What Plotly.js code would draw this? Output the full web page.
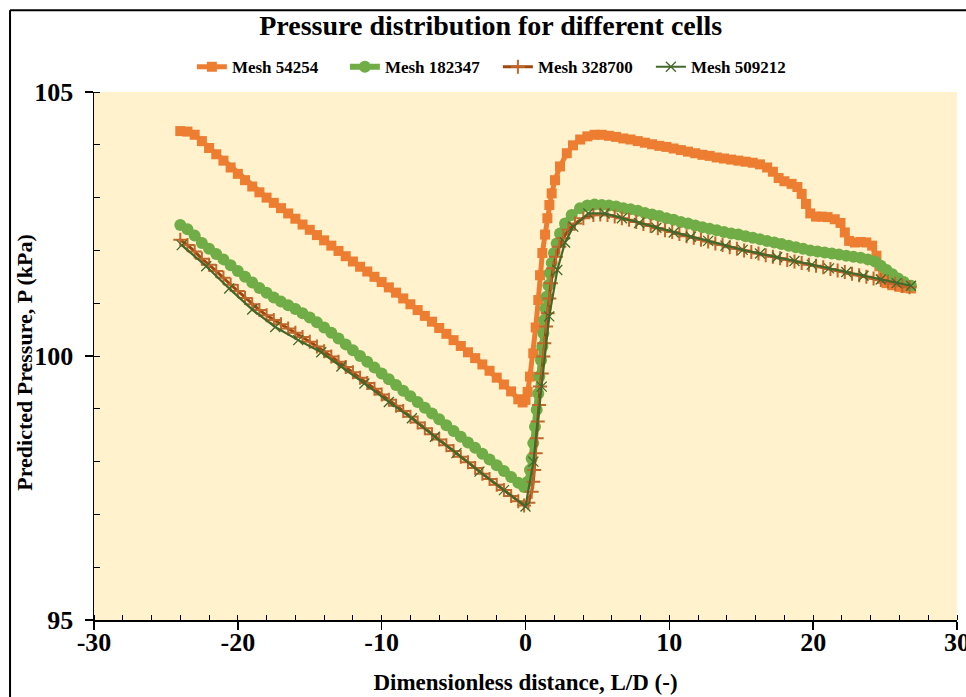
<!DOCTYPE html>
<html>
<head>
<meta charset="utf-8">
<script src="https://cdn.plot.ly/plotly-3.0.1.min.js"></script>
<style>html,body{margin:0;padding:0;background:#fff;}</style>
</head>
<body>
<div id="chart" style="width:966px;height:697px;"></div>
<script>
// Series names
const seriesNames = ["Mesh 54254", "Mesh 182347", "Mesh 328700", "Mesh 509212"];

// Axis tick values and labels
const xTickVals = [-30, -20, -10, 0, 10, 20, 30];
const xTickText = ["-30", "-20", "-10", "0", "10", "20", "30"];
const yTickVals = [95, 100, 105];
const yTickText = ["95", "100", "105"];

// Mesh 54254 (orange, squares)
const x54254 = [-24.0,-23.5,-23.0,-22.5,-22.0,-21.5,-21.0,-20.5,-20.0,-19.5,-19.0,-18.5,-18.0,-17.5,-17.0,-16.5,-16.0,-15.5,-15.0,-14.5,-14.0,-13.5,-13.0,-12.5,-12.0,-11.5,-11.0,-10.5,-10.0,-9.5,-9.0,-8.5,-8.0,-7.5,-7.0,-6.5,-6.0,-5.5,-5.0,-4.5,-4.0,-3.5,-3.0,-2.5,-2.0,-1.5,-1.0,-0.5,-0.2,0.0,0.15,0.31,0.54,0.71,0.89,1.01,1.17,1.36,1.52,1.66,1.82,2.05,2.4,2.87,3.3,3.8,4.3,4.8,5.3,5.8,6.3,6.8,7.3,7.8,8.3,8.8,9.3,9.8,10.3,10.8,11.3,11.8,12.3,12.8,13.3,13.8,14.3,14.8,15.3,15.8,16.3,16.8,17.2,17.6,18.0,18.5,18.9,19.2,19.5,19.8,20.2,20.6,21.0,21.5,21.9,22.2,22.5,22.9,23.3,23.7,24.1,24.4,24.6,24.8,25.1,25.5,26.0,26.4,26.8];
const p54254 = [104.26,104.25,104.19,104.07,103.94,103.82,103.70,103.57,103.45,103.33,103.21,103.10,103.00,102.90,102.80,102.70,102.60,102.49,102.39,102.29,102.19,102.09,101.99,101.89,101.79,101.69,101.60,101.50,101.40,101.30,101.20,101.09,100.98,100.87,100.76,100.65,100.53,100.42,100.30,100.19,100.07,99.96,99.84,99.72,99.59,99.46,99.33,99.18,99.12,99.17,99.32,99.61,100.05,100.54,101.06,101.53,101.95,102.30,102.61,102.86,103.08,103.33,103.59,103.84,103.99,104.10,104.16,104.19,104.19,104.17,104.15,104.12,104.10,104.07,104.04,104.01,103.98,103.96,103.93,103.90,103.87,103.84,103.81,103.79,103.76,103.74,103.72,103.70,103.68,103.66,103.63,103.57,103.49,103.37,103.31,103.26,103.20,103.07,102.88,102.70,102.64,102.64,102.63,102.59,102.52,102.34,102.18,102.15,102.16,102.15,102.09,101.90,101.70,101.46,101.38,101.34,101.31,101.29,101.28];

// Mesh 182347 (green, circles)
const x182347 = [-24.0,-23.5,-23.0,-22.5,-22.0,-21.5,-21.0,-20.5,-20.0,-19.5,-19.0,-18.5,-18.0,-17.5,-17.0,-16.5,-16.0,-15.5,-15.0,-14.5,-14.0,-13.5,-13.0,-12.5,-12.0,-11.5,-11.0,-10.5,-10.0,-9.5,-9.0,-8.5,-8.0,-7.5,-7.0,-6.5,-6.0,-5.5,-5.0,-4.5,-4.0,-3.5,-3.0,-2.5,-2.0,-1.5,-1.0,-0.5,-0.1,0.15,0.31,0.43,0.54,0.66,0.78,0.89,0.96,1.08,1.17,1.24,1.31,1.40,1.47,1.59,1.70,1.82,1.98,2.17,2.40,2.75,3.21,3.79,4.3,4.8,5.3,5.8,6.3,6.8,7.3,7.8,8.3,8.8,9.3,9.8,10.3,10.8,11.3,11.8,12.3,12.8,13.3,13.8,14.3,14.8,15.3,15.8,16.3,16.8,17.3,17.8,18.3,18.8,19.3,19.8,20.3,20.8,21.3,21.8,22.3,22.8,23.3,23.8,24.3,24.7,25.1,25.5,25.9,26.3,26.8];
const p182347 = [102.48,102.40,102.28,102.14,102.03,101.93,101.83,101.72,101.61,101.50,101.39,101.29,101.20,101.11,101.03,100.96,100.89,100.81,100.73,100.64,100.54,100.44,100.33,100.22,100.11,100.00,99.89,99.78,99.67,99.56,99.45,99.34,99.24,99.13,99.02,98.91,98.80,98.69,98.58,98.47,98.36,98.26,98.15,98.04,97.93,97.82,97.71,97.60,97.52,97.62,97.84,98.06,98.35,98.66,98.98,99.29,99.61,99.92,100.18,100.43,100.68,100.90,101.12,101.34,101.57,101.76,101.95,102.13,102.32,102.51,102.67,102.80,102.85,102.87,102.86,102.85,102.83,102.80,102.78,102.75,102.71,102.68,102.65,102.61,102.58,102.54,102.51,102.47,102.44,102.41,102.38,102.35,102.32,102.30,102.27,102.24,102.21,102.18,102.15,102.12,102.09,102.06,102.03,102.00,101.98,101.96,101.94,101.92,101.90,101.88,101.86,101.83,101.79,101.71,101.63,101.55,101.47,101.40,101.33];

// Mesh 328700 (brown, plus)
const x328700 = [-24.0,-23.5,-23.0,-22.5,-22.0,-21.5,-21.0,-20.5,-20.0,-19.5,-19.0,-18.5,-18.0,-17.5,-17.0,-16.5,-16.0,-15.5,-15.0,-14.5,-14.0,-13.5,-13.0,-12.5,-12.0,-11.5,-11.0,-10.5,-10.0,-9.5,-9.0,-8.5,-8.0,-7.5,-7.0,-6.5,-6.0,-5.5,-5.0,-4.5,-4.0,-3.5,-3.0,-2.5,-2.0,-1.5,-1.0,-0.5,-0.1,0.2,0.43,0.54,0.61,0.71,0.78,0.85,0.94,1.01,1.13,1.24,1.31,1.43,1.54,1.66,1.77,1.93,2.12,2.35,2.63,2.98,3.44,4.02,4.72,5.2,5.7,6.2,6.7,7.2,7.7,8.2,8.7,9.2,9.7,10.2,10.7,11.2,11.7,12.2,12.7,13.2,13.7,14.2,14.7,15.2,15.7,16.2,16.7,17.2,17.7,18.2,18.7,19.2,19.7,20.2,20.7,21.2,21.7,22.2,22.7,23.2,23.7,24.2,24.7,25.2,25.7,26.2,26.7];
const p328700 = [102.20,102.10,101.98,101.84,101.73,101.61,101.48,101.35,101.23,101.10,100.98,100.87,100.77,100.68,100.60,100.52,100.44,100.36,100.27,100.18,100.09,99.99,99.89,99.79,99.69,99.59,99.49,99.38,99.27,99.17,99.06,98.96,98.85,98.74,98.63,98.52,98.42,98.31,98.20,98.09,97.99,97.88,97.77,97.67,97.56,97.46,97.35,97.25,97.17,97.22,97.43,97.62,97.84,98.16,98.44,98.76,99.07,99.42,99.67,99.99,100.24,100.56,100.81,101.09,101.38,101.66,101.88,102.07,102.23,102.39,102.51,102.61,102.67,102.68,102.67,102.64,102.61,102.58,102.54,102.50,102.46,102.42,102.38,102.35,102.31,102.27,102.24,102.20,102.17,102.13,102.10,102.06,102.03,102.00,101.97,101.94,101.91,101.88,101.85,101.82,101.79,101.76,101.73,101.71,101.68,101.65,101.62,101.59,101.56,101.53,101.50,101.47,101.44,101.41,101.37,101.33,101.30];

// Mesh 509212 (dark green, x)
const x509212 = [-23.9,-22.2,-20.6,-19.0,-17.4,-15.8,-14.2,-12.8,-11.2,-9.5,-7.9,-6.3,-4.8,-3.2,-1.5,0.0,0.55,1.13,1.65,2.21,2.75,3.32,4.37,5.5,6.7,7.9,9.1,10.3,11.5,12.7,13.9,15.1,16.3,17.5,18.7,19.9,21.1,22.3,23.5,24.7,25.8,26.8];
const p509212 = [102.10,101.70,101.28,100.88,100.55,100.30,100.07,99.80,99.48,99.13,98.82,98.47,98.16,97.81,97.46,97.15,98.00,99.42,100.75,101.63,102.15,102.45,102.70,102.70,102.61,102.52,102.43,102.34,102.26,102.18,102.09,102.01,101.94,101.87,101.80,101.73,101.66,101.59,101.52,101.45,101.38,101.33];

const FONT = "Liberation Serif, Times New Roman, serif";

const traces = [
  {x: x54254, y: p54254, name: seriesNames[0], type: "scatter", mode: "lines+markers",
   line: {color: "#ED7D31", width: 5},
   marker: {symbol: "square", size: 10, color: "#ED7D31"}},
  {x: x182347, y: p182347, name: seriesNames[1], type: "scatter", mode: "lines+markers",
   line: {color: "#70AD47", width: 6},
   marker: {symbol: "circle", size: 12, color: "#70AD47"}},
  {x: x328700, y: p328700, name: seriesNames[2], type: "scatter", mode: "lines+markers",
   line: {color: "#9E480E", width: 3},
   marker: {symbol: "cross-thin", size: 10, color: "#B55A1E", line: {color: "#C0672C", width: 2}}},
  {x: x509212, y: p509212, name: seriesNames[3], type: "scatter", mode: "lines+markers",
   line: {color: "#43682B", width: 2.2},
   marker: {symbol: "x-thin", size: 10, color: "#43682B", line: {color: "#43682B", width: 1.3}}}
];

const layout = {
  width: 966, height: 697,
  margin: {l: 94, r: 9, t: 92, b: 77},
  paper_bgcolor: "#FFFFFF",
  plot_bgcolor: "#FFF2CC",
  font: {family: FONT, color: "#000"},
  title: {text: "Pressure distribution for different cells",
          font: {family: FONT, size: 28, weight: "bold", color: "#000"},
          xref: "container", x: 0.508, xanchor: "center",
          yref: "container", y: 0.964, yanchor: "middle"},
  showlegend: true,
  legend: {orientation: "h", x: 0.468, xanchor: "center", y: 1.047, yanchor: "middle",
           font: {family: FONT, size: 17, weight: "bold", color: "#000"},
           bgcolor: "rgba(0,0,0,0)", entrywidth: 108, entrywidthmode: "pixels"},
  xaxis: {range: [-30, 30], tickmode: "array", tickvals: xTickVals, ticktext: xTickText,
          showgrid: false, zeroline: false,
          showline: true, linecolor: "#000", linewidth: 1.5,
          ticks: "outside", ticklen: 8, tickwidth: 1.5, tickcolor: "#000",
          tickfont: {family: FONT, size: 26, weight: "bold", color: "#000"},
          ticklabelstandoff: -10, ticklabeloverflow: "allow",
          minor: {tickmode: "linear", tick0: 0, dtick: 2, ticks: "inside", ticklen: 5, tickwidth: 1, tickcolor: "#000", showgrid: false},
          title: {text: "Dimensionless distance, L/D (-)", standoff: 18,
                  font: {family: FONT, size: 23, weight: "bold", color: "#000"}}},
  yaxis: {range: [95, 105], tickmode: "array", tickvals: yTickVals, ticktext: yTickText,
          showgrid: false, zeroline: false,
          showline: true, linecolor: "#000", linewidth: 1.5,
          ticks: "outside", ticklen: 8, tickwidth: 1.5, tickcolor: "#000",
          tickfont: {family: FONT, size: 26, weight: "bold", color: "#000"},
          ticklabelstandoff: 6,
          minor: {tickmode: "linear", tick0: 95, dtick: 1, ticks: "inside", ticklen: 6, tickwidth: 1, tickcolor: "#000", showgrid: false}},
  annotations: [
    {text: "Predicted Pressure, P (kPa)", xref: "paper", yref: "paper", x: -0.08, y: 0.489,
     xanchor: "center", yanchor: "middle", textangle: -90, showarrow: false,
     font: {family: FONT, size: 22, weight: "bold", color: "#000"}}
  ],
  shapes: [
    {type: "line", xref: "paper", yref: "paper", x0: -0.0973, x1: -0.0973, y0: 1.155, y1: -0.5,
     line: {color: "#000", width: 2}},
    {type: "line", xref: "paper", yref: "paper", x0: -0.0973, x1: 1.3, y0: 1.155, y1: 1.155,
     line: {color: "#000", width: 2}}
  ]
};

Plotly.newPlot("chart", traces, layout, {displayModeBar: false, staticPlot: true});
</script>
</body>
</html>
